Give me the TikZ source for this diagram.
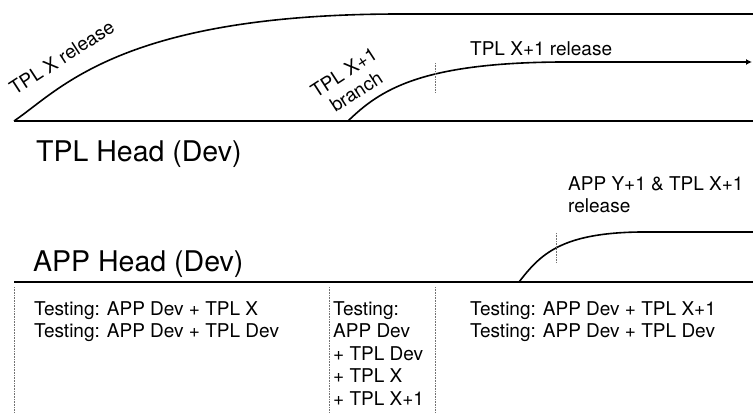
\documentclass[tikz,border=0pt]{standalone}
\usepackage{fontspec}
\setmainfont{TeX Gyre Heros}
\usetikzlibrary{arrows.meta,positioning}

\begin{document}
\begin{tikzpicture}[x=1pt, y=-1pt,
  head/.style={font=\fontsize{28.5}{34}\selectfont, anchor=base west, inner sep=0pt},
  lbl/.style={font=\fontsize{19}{22.5}\selectfont, inner sep=0pt},
  note/.style={lbl, anchor=base west, align=left},
  trunk/.style={line width=1.4pt},
  twig/.style={line width=1.6pt},
  tick/.style={densely dotted, black!55, line width=0.6pt},
  arr/.style={-{Latex[length=6pt,width=6pt]}}]
\useasboundingbox (0,0) rectangle (753,413);
\coordinate (t0) at (14,121);
\coordinate (t1) at (753,121);
\coordinate (a0) at (14,282);
\coordinate (a1) at (753,282);
\coordinate (r0) at (400,14);
\coordinate (r1) at (753,14);
\coordinate (b0) at (348,121);
\coordinate (b1) at (560,62);
\coordinate (b2) at (752,62);
\coordinate (p0) at (519,282);
\coordinate (p1) at (640,232);
\coordinate (p2) at (753,232);
\draw[trunk] (t0) -- (t1);
\draw[trunk] (a0) -- (a1);
\draw[twig] (t0) .. controls (60,90) and (120,14) .. (r0) -- (r1);
\draw[twig, arr] (b0) .. controls (380,90) and (420,63) .. (b1) -- (b2);
\draw[twig] (p0) .. controls (540,255) and (560,233) .. (p1) -- (p2);
\draw[tick] (435,63) -- (435,93);
\draw[tick] (556,233) -- (556,263);
\draw[tick] (14,287) -- (14,413);
\draw[tick] (329,287) -- (329,413);
\draw[tick] (435,287) -- (435,413);
\node[head] (tplhead) at (36,161) {TPL Head (Dev)};
\node[head] (apphead) at (33,271.5) {APP Head (Dev)};
\node[lbl, anchor=base west, rotate=33] (xrel) at (15,96) {TPL X release};
\node[lbl, align=center, rotate=33] (xbr) at (350,82) {TPL X+1\\branch};
\node[lbl, anchor=base west] (x1rel) at (470,55) {TPL X+1 release};
\node[note] (yrel) at (568,212.5) {APP Y+1 \& TPL X+1\\release};
\node[note] (c1) at (34,337.5) {Testing: APP Dev + TPL X\\Testing: APP Dev + TPL Dev};
\node[note] (c2) at (333,405) {Testing:\\APP Dev\\+ TPL Dev\\+ TPL X\\+ TPL X+1};
\node[note] (c3) at (470,337.5) {Testing: APP Dev + TPL X+1\\Testing: APP Dev + TPL Dev};
\end{tikzpicture}
\end{document}
